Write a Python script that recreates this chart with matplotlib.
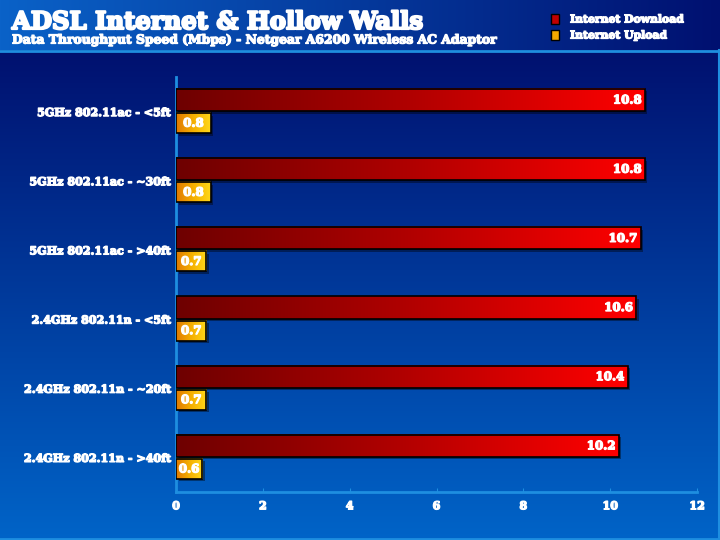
import matplotlib.pyplot as plt
import matplotlib.transforms as mtransforms
import matplotlib.patheffects as pe
from matplotlib.colors import LinearSegmentedColormap
import numpy as np

categories = [
    "5GHz 802.11ac - <5ft",
    "5GHz 802.11ac - ~30ft",
    "5GHz 802.11ac - >40ft",
    "2.4GHz 802.11n - <5ft",
    "2.4GHz 802.11n - ~20ft",
    "2.4GHz 802.11n - >40ft",
]
download = [10.8, 10.8, 10.7, 10.6, 10.4, 10.2]
upload = [0.8, 0.8, 0.7, 0.7, 0.7, 0.6]
xticks = [0, 2, 4, 6, 8, 10, 12]

FONT = "DejaVu Serif"
AXIS_BLUE = "#1e8ee0"
thick = [pe.withStroke(linewidth=0.9, foreground="white")]

red_cmap = LinearSegmentedColormap.from_list("red", ["#6e0000", "#b00000", "#ff0000"])
gold_cmap = LinearSegmentedColormap.from_list("gold", ["#e07800", "#f5b000", "#ffd81a"])

fig = plt.figure(figsize=(7.2, 5.4), dpi=100)

# background: header band with horizontal gradient, body with vertical gradient
bg = fig.add_axes([0, 0, 1, 1], zorder=-10)
H, W = 540, 720
img = np.zeros((H, W, 3))
top_body = np.array([0x00, 0x08, 0x66]) / 255
bot_body = np.array([0x00, 0x64, 0xc8]) / 255
t = np.linspace(0, 1, H)[:, None]
img[:] = (top_body * (1 - t) + bot_body * t)[:, None, :]
hl = np.array([0x0a, 0x62, 0xc8]) / 255
hr = np.array([0x00, 0x10, 0x70]) / 255
s = np.linspace(0, 1, W)[:, None]
img[:50] = (hl * (1 - s) + hr * s)[None, :, :]
bg.imshow(img, aspect="auto", extent=[0, W, H, 0])
bg.plot([0, W], [50.5, 50.5], color=AXIS_BLUE, lw=2)
bg.plot([0, W], [539, 539], color=AXIS_BLUE, lw=2)
bg.plot([719, 719], [50, 540], color=AXIS_BLUE, lw=1.5)
bg.set_xlim(0, W)
bg.set_ylim(H, 0)
bg.axis("off")

# title and legend
fig.text(12 / W, 1 - 22 / H, "ADSL Internet & Hollow Walls", color="white",
         fontsize=17.5, fontweight="bold", family=FONT, va="center",
         path_effects=[pe.withStroke(linewidth=1.6, foreground="white")])
fig.text(12 / W, 1 - 40 / H,
         "Data Throughput Speed (Mbps) - Netgear A6200 Wireless AC Adaptor",
         color="white", fontsize=8.9, fontweight="bold", family=FONT, va="center",
         path_effects=thick)
for yy, col, lab in [(19, "#c00000", "Internet Download"), (35, "#f5a800", "Internet Upload")]:
    bg.add_patch(plt.Rectangle((551, yy - 5), 8, 10, facecolor=col, edgecolor="black", lw=1))
    fig.text(570 / W, 1 - yy / H, lab, color="white", fontsize=7.8,
             fontweight="bold", family=FONT, va="center", path_effects=thick)

ax = fig.add_axes([176 / W, 1 - 492 / H, (697 - 176) / W, (492 - 77) / H])
ax.patch.set_alpha(0)
n = len(categories)
y = np.arange(n)


def grad_bar(yc, val, h, cmap):
    shadow = mtransforms.offset_copy(ax.transData, fig=fig, x=2.5, y=-2.5, units="dots")
    ax.add_patch(plt.Rectangle((0, yc - h / 2), val, h, facecolor="black",
                               alpha=0.4, lw=0, transform=shadow, zorder=2))
    grad = np.linspace(0, 1, 256)[None, :]
    ax.imshow(grad, cmap=cmap, aspect="auto", extent=[0, val, yc + h / 2, yc - h / 2],
              zorder=3, interpolation="bilinear")
    ax.add_patch(plt.Rectangle((0, yc - h / 2), val, h, facecolor="none",
                               edgecolor="black", lw=1.2, zorder=4))


for i in range(n):
    grad_bar(y[i] - 0.167, download[i], 0.32, red_cmap)
    grad_bar(y[i] + 0.167, upload[i], 0.29, gold_cmap)
    ax.text(download[i] - 0.08, y[i] - 0.167, f"{download[i]}", color="white",
            fontsize=8.5, fontweight="bold", family=FONT, ha="right", va="center",
            zorder=5, path_effects=thick)
    ax.text(upload[i] / 2, y[i] + 0.167, f"{upload[i]}", color="white",
            fontsize=8.5, fontweight="bold", family=FONT, ha="center", va="center",
            zorder=5, path_effects=thick)

ax.set_xlim(0, 12)
ax.set_ylim(n - 0.5, -0.5)
ax.set_xticks(xticks)
ax.set_xticklabels([str(v) for v in xticks])
ax.set_yticks(y)
ax.set_yticklabels(categories)
for lab in ax.get_xticklabels() + ax.get_yticklabels():
    lab.set_color("white")
    lab.set_fontweight("bold")
    lab.set_family(FONT)
    lab.set_fontsize(8)
    lab.set_path_effects(thick)
ax.tick_params(axis="x", direction="in", length=3, color=AXIS_BLUE, pad=6)
ax.tick_params(axis="y", length=0, pad=4)
for side in ["top", "right"]:
    ax.spines[side].set_visible(False)
ax.spines["left"].set_color(AXIS_BLUE)
ax.spines["bottom"].set_color(AXIS_BLUE)
ax.spines["left"].set_linewidth(2)
ax.spines["bottom"].set_linewidth(2)

fig.savefig("out.png", dpi=100)
